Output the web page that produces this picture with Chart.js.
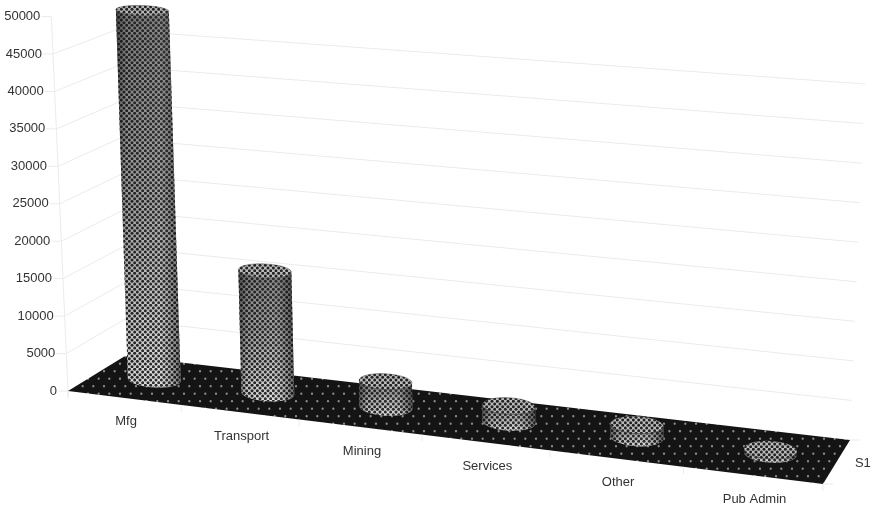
<!DOCTYPE html>
<html>
<head>
<meta charset="utf-8">
<title>Sector totals</title>
<script src="https://cdn.jsdelivr.net/npm/chart.js@4"></script>
<style>
  html, body { margin: 0; padding: 0; background: #fff; }
  canvas { display: block; }
</style>
</head>
<body>
<canvas id="sectorChart" width="874" height="508"></canvas>
<script>
/* Cylinder column chart on a perspective floor.
   The bar chart supplies the scales; the plugin below projects them into the box. */

const categories = ["Mfg", "Transport", "Mining", "Services", "Other", "Pub Admin"];
const seriesName = "S1";
const seriesValues = [49800, 16300, 3400, 2100, 1600, 450];
const axisMax = 50000;
const axisStep = 5000;

// Box corners as drawn: floor, and the plane at the highest ruled gridline
const floorQuad = [[68, 391], [823, 484], [850, 440], [125, 356]];
const ceilQuad = [[53, 54], [838, 115], [865, 84], [116, 30]];
const ceilValue = 45000;
const gridColor = "#ebebeb";
const textColor = "#333";
const labelFont = "13px 'Liberation Sans', Arial, sans-serif";
const columnNudge = 0.003; // columns sit slightly right of their slot centre
const columnRx = 26.5;
const columnDepth = 0.21;

// unit square -> quad
function quadMap(q) {
  const [[x0, y0], [x1, y1], [x2, y2], [x3, y3]] = q;
  const dx1 = x1 - x2, dx2 = x3 - x2, sx = x0 - x1 + x2 - x3;
  const dy1 = y1 - y2, dy2 = y3 - y2, sy = y0 - y1 + y2 - y3;
  const den = dx1 * dy2 - dx2 * dy1;
  const g = (sx * dy2 - dx2 * sy) / den;
  const h = (dx1 * sy - sx * dy1) / den;
  const a = x1 - x0 + g * x1, b = x3 - x0 + h * x3;
  const d = y1 - y0 + g * y1, e = y3 - y0 + h * y3;
  return (u, w) => {
    const k = g * u + h * w + 1;
    return [(a * u + b * w + x0) / k, (d * u + e * w + y0) / k];
  };
}
const onFloor = quadMap(floorQuad);
const onCeil = quadMap(ceilQuad);

// t: 0 on the floor, 1 on the ceiling plane
function project(u, w, t) {
  const f = onFloor(u, w), c = onCeil(u, w);
  return [f[0] + (c[0] - f[0]) * t, f[1] + (c[1] - f[1]) * t];
}

function heightOf(scale, pixel) {
  const y0 = scale.getPixelForValue(0);
  return (y0 - pixel) / (y0 - scale.getPixelForValue(ceilValue));
}

// staggered halftone tile; three periods each way so fractional spacing still wraps cleanly
function dotPattern(ctx, ground, dot, r, periodX, periodY) {
  const tile = document.createElement("canvas");
  tile.width = Math.round(periodX * 3);
  tile.height = Math.round(periodY * 3);
  const t = tile.getContext("2d");
  if (ground) { t.fillStyle = ground; t.fillRect(0, 0, tile.width, tile.height); }
  t.fillStyle = dot;
  for (let i = 0; i < 3; i++) {
    for (let j = 0; j < 3; j++) {
      [[0.25, 0.25], [0.75, 0.75]].forEach(s => {
        t.beginPath();
        t.arc((i + s[0]) * periodX, (j + s[1]) * periodY, r, 0, Math.PI * 2);
        t.fill();
      });
    }
  }
  return ctx.createPattern(tile, "repeat");
}

function line(ctx, pts, color) {
  ctx.beginPath();
  pts.forEach((p, i) => i ? ctx.lineTo(p[0], p[1]) : ctx.moveTo(p[0], p[1]));
  ctx.strokeStyle = color;
  ctx.lineWidth = 1;
  ctx.stroke();
}

function drawBox(chart) {
  const { ctx, scales: { x, y } } = chart;
  // wall gridlines; the top of the axis has no rule
  y.ticks.forEach(tick => {
    if (tick.value === 0 || tick.value === axisMax) return;
    const t = heightOf(y, y.getPixelForValue(tick.value));
    line(ctx, [project(0, 0, t), project(0, 1, t), project(1, 1, t)], gridColor);
  });
  // value axis with its tick marks and labels
  const top = heightOf(y, y.getPixelForValue(axisMax));
  line(ctx, [project(0, 0, top), project(0, 0, -0.02)], gridColor);
  ctx.font = labelFont;
  ctx.fillStyle = textColor;
  ctx.textAlign = "right";
  ctx.textBaseline = "middle";
  y.ticks.forEach(tick => {
    const p = project(0, 0, heightOf(y, y.getPixelForValue(tick.value)));
    line(ctx, [[p[0] - 10, p[1]], p], gridColor);
    ctx.fillStyle = textColor;
    ctx.fillText(String(tick.value), p[0] - 11, p[1]);
  });
  // floor
  ctx.beginPath();
  [[0, 0], [1, 0], [1, 1], [0, 1]].forEach((c, i) => {
    const p = onFloor(c[0], c[1]);
    i ? ctx.lineTo(p[0], p[1]) : ctx.moveTo(p[0], p[1]);
  });
  ctx.closePath();
  ctx.fillStyle = dotPattern(ctx, "#141414", "#8c8c8c", 1.15, 32 / 3, 15);
  ctx.fill();
  // category tick marks and labels along the front edge
  for (let i = 0; i <= categories.length; i++) {
    const p = onFloor(i / categories.length, 0);
    line(ctx, [p, [p[0], p[1] + 7]], gridColor);
  }
  ctx.textAlign = "center";
  categories.forEach((name, i) => {
    const p = onFloor((x.getPixelForTick(i) - x.left) / x.width, 0);
    ctx.fillStyle = textColor;
    ctx.fillText(name, p[0] + 2, p[1] + 24);
  });
  // series axis on the right edge
  const r = onFloor(1, 0.5), br = onFloor(1, 1), fr = onFloor(1, 0);
  line(ctx, [br, [br[0] + 10, br[1]]], gridColor);
  line(ctx, [fr, [fr[0] + 10, fr[1]]], gridColor);
  ctx.fillStyle = textColor;
  ctx.fillText(chart.data.datasets[0].label, r[0] + 26, r[1] + 2);
}

function ring(u, t) {
  const c = project(u, 0.5, t);
  const a = project(u - 0.04, 0.5, t), b = project(u + 0.04, 0.5, t);
  const f = project(u, 0.5 - columnDepth, t), k = project(u, 0.5 + columnDepth, t);
  return {
    x: c[0], y: c[1],
    rx: columnRx,
    ry: Math.abs(f[1] - k[1]) / 2,
    rot: Math.atan2(b[1] - a[1], b[0] - a[0]) * 0.5
  };
}

function rimPoint(e, ang) {
  const cx = e.rx * Math.cos(ang), cy = e.ry * Math.sin(ang);
  return [e.x + cx * Math.cos(e.rot) - cy * Math.sin(e.rot),
          e.y + cx * Math.sin(e.rot) + cy * Math.cos(e.rot)];
}

function drawCylinder(ctx, u, t, mesh) {
  const base = ring(u, 0), top = ring(u, t);
  const tl = rimPoint(top, Math.PI), tr = rimPoint(top, 0);
  const wall = () => {
    ctx.beginPath();
    ctx.moveTo(tl[0], tl[1]);
    const bl = rimPoint(base, Math.PI);
    ctx.lineTo(bl[0], bl[1]);
    ctx.ellipse(base.x, base.y, base.rx, base.ry, base.rot, Math.PI, 0, true);
    ctx.lineTo(tr[0], tr[1]);
    ctx.ellipse(top.x, top.y, top.rx, top.ry, top.rot, 0, Math.PI, false);
    ctx.closePath();
  };
  const bottomY = base.y + base.ry, topY = top.y - top.ry;

  // pale ground, halftone over it, then edge shading
  wall();
  const ground = ctx.createLinearGradient(0, topY, 0, bottomY);
  ground.addColorStop(0, "#7e7e7e");
  ground.addColorStop(0.5, "#a2a2a2");
  ground.addColorStop(1, "#dedede");
  ctx.fillStyle = ground;
  ctx.fill();
  wall();
  ctx.fillStyle = mesh;
  ctx.fill();

  const side = ctx.createLinearGradient(Math.min(tl[0], base.x - base.rx), 0, Math.max(tr[0], base.x + base.rx), 0);
  side.addColorStop(0, "rgba(20,20,20,0.5)");
  side.addColorStop(0.15, "rgba(20,20,20,0.05)");
  side.addColorStop(0.6, "rgba(255,255,255,0.04)");
  side.addColorStop(0.85, "rgba(20,20,20,0.2)");
  side.addColorStop(1, "rgba(20,20,20,0.55)");
  wall();
  ctx.fillStyle = side;
  ctx.fill();

  ctx.beginPath();
  ctx.ellipse(top.x, top.y, top.rx, top.ry, top.rot, 0, Math.PI * 2);
  ctx.fillStyle = "#bdbdbd";
  ctx.fill();
  ctx.fillStyle = mesh;
  ctx.fill();
  ctx.strokeStyle = "rgba(30,30,30,0.45)";
  ctx.lineWidth = 0.8;
  ctx.stroke();
}

const boxPlugin = {
  id: "box3d",
  beforeDatasetDraw(chart, args) {
    const { ctx, scales: { x, y } } = chart;
    drawBox(chart);
    const mesh = dotPattern(ctx, null, "#222", 1.5, 16 / 3, 16 / 3);
    ctx.save();
    args.meta.data.forEach(bar => {
      const u = (bar.x - x.left) / x.width + columnNudge;
      drawCylinder(ctx, u, heightOf(y, bar.y), mesh);
    });
    ctx.restore();
    return false; // the plain rectangles are not wanted
  }
};

new Chart(document.getElementById("sectorChart"), {
  type: "bar",
  data: {
    labels: categories,
    datasets: [{ label: seriesName, data: seriesValues }]
  },
  options: {
    responsive: false,
    animation: false,
    layout: { padding: { left: 68, right: 24, top: 15, bottom: 117 } },
    plugins: { legend: { display: false }, tooltip: { enabled: false } },
    scales: {
      x: { ticks: { display: false }, grid: { display: false }, border: { display: false } },
      y: {
        min: 0, max: axisMax,
        ticks: { display: false, stepSize: axisStep },
        grid: { display: false }, border: { display: false }
      }
    }
  },
  plugins: [boxPlugin]
});
</script>
</body>
</html>
